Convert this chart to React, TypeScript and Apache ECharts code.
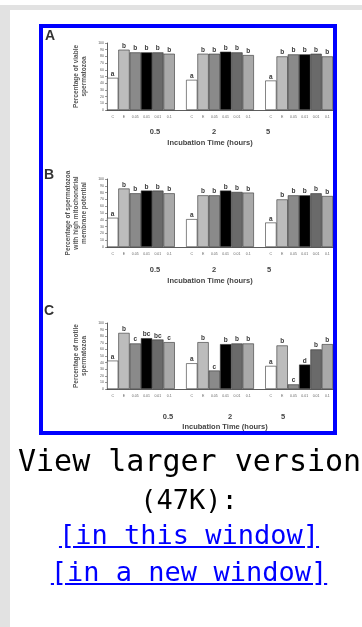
import React, { useEffect, useRef } from "react";
import * as echarts from "echarts";

const times = ["0.5", "2", "5"];
const treatments = ["C", "E", "0.05", "0.01", "0.01", "0.1"];
const treatmentColors = ["#ffffff", "#bcbcbc", "#8a8a8a", "#000000", "#6a6a6a", "#a9a9a9"];

const viable = [
  [48, 90, 86, 86, 86, 84],
  [45, 84, 84, 87, 86, 82],
  [44, 80, 83, 83, 84, 80],
];
const viableLetters = [
  ["a", "b", "b", "b", "b", "b"],
  ["a", "b", "b", "b", "b", "b"],
  ["a", "b", "b", "b", "b", "b"],
];
const mmp = [
  [43, 86, 79, 83, 83, 79],
  [41, 76, 76, 83, 81, 80],
  [36, 70, 76, 76, 79, 75],
];
const mmpLetters = [
  ["a", "b", "b", "b", "b", "b"],
  ["a", "b", "b", "b", "b", "b"],
  ["a", "b", "b", "b", "b", "b"],
];
const motile = [
  [43, 85, 69, 77, 75, 71],
  [39, 71, 28, 68, 69, 69],
  [35, 66, 7, 37, 60, 68],
];
const motileLetters = [
  ["a", "b", "c", "bc", "bc", "c"],
  ["a", "b", "c", "b", "b", "b"],
  ["a", "b", "c", "d", "b", "b"],
];

const yTitles = [
  "Percentage of viable\nspermatozoa",
  "Percentage of spermatozoa\nwith high mitochondrial\nmembrane potential",
  "Percentage of motile\nspermatozoa",
];
const panelLetters = ["A", "B", "C"];
const xTitle = "Incubation Time (hours)";

const FONT = "Liberation Sans";

function buildCats() {
  const cats: string[] = [];
  times.forEach((_, g) => {
    treatments.forEach((t) => cats.push(t));
    if (g < times.length - 1) cats.push("");
  });
  return cats;
}

function buildData(vals: number[][], letters: string[][]) {
  const out: any[] = [];
  vals.forEach((grp, g) => {
    grp.forEach((v, t) => {
      out.push({
        value: v,
        itemStyle: { color: treatmentColors[t], borderColor: "#333", borderWidth: 0.6 },
        label: {
          show: true,
          position: "top",
          distance: 1,
          formatter: letters[g][t],
          color: "#3a3a3a",
          fontSize: 6.5,
          fontWeight: "bold",
          fontFamily: FONT,
        },
      });
    });
    if (g < vals.length - 1) out.push({ value: "-" });
  });
  return out;
}

const grids = [
  { top: 43, height: 67 },
  { top: 179, height: 68 },
  { top: 323, height: 66 },
];
const nameGaps = [16, 12, 16];
const groupLabelPos = [
  { y: 131, xs: [155, 214, 268], tx: 210, ty: 142 },
  { y: 269, xs: [155, 214, 269], tx: 210, ty: 280 },
  { y: 416, xs: [168, 230, 283], tx: 225, ty: 426 },
];
const letterPos = [
  { x: 45, y: 28 },
  { x: 44, y: 167 },
  { x: 44, y: 303 },
];

export default function App() {
  const ref = useRef<HTMLDivElement>(null);
  useEffect(() => {
    if (!ref.current) return;
    const chart = echarts.init(ref.current, null, { renderer: "svg" });
    const cats = buildCats();
    const datasets = [
      buildData(viable, viableLetters),
      buildData(mmp, mmpLetters),
      buildData(motile, motileLetters),
    ];
    const graphics: any[] = [
      { type: "rect", shape: { x: 0, y: 5, width: 362, height: 5 }, style: { fill: "#e2e2e2" }, silent: true },
      { type: "rect", shape: { x: 0, y: 5, width: 10, height: 622 }, style: { fill: "#e2e2e2" }, silent: true },
      {
        type: "rect",
        shape: { x: 41, y: 26, width: 294, height: 407 },
        style: { fill: "#ffffff", stroke: "#0000ff", lineWidth: 4 },
        silent: true,
        z: -1,
      },
    ];
    panelLetters.forEach((l, i) => {
      graphics.push({
        type: "text",
        x: letterPos[i].x,
        y: letterPos[i].y,
        style: { text: l, font: `bold 14px ${FONT}`, fill: "#333" },
      });
      const gp = groupLabelPos[i];
      times.forEach((t, g) => {
        graphics.push({
          type: "text",
          x: gp.xs[g],
          y: gp.y,
          style: { text: t, font: `bold 7.5px ${FONT}`, fill: "#444", align: "center", verticalAlign: "middle" },
        });
      });
      graphics.push({
        type: "text",
        x: gp.tx,
        y: gp.ty,
        style: { text: xTitle, font: `bold 7.5px ${FONT}`, fill: "#444", align: "center", verticalAlign: "middle" },
      });
    });

    const option: any = {
      animation: false,
      backgroundColor: "#ffffff",
      grid: grids.map((g) => ({ left: 107, width: 226, top: g.top, height: g.height, containLabel: false })),
      xAxis: grids.map((_, i) => ({
        type: "category",
        gridIndex: i,
        data: cats,
        axisLine: { show: true, lineStyle: { color: "#333", width: 0.8 } },
        axisTick: { show: false },
        axisLabel: { interval: 0, fontSize: 3.5, color: "#666", margin: 5, fontFamily: FONT },
      })),
      yAxis: grids.map((_, i) => ({
        type: "value",
        gridIndex: i,
        min: 0,
        max: 100,
        interval: 10,
        splitLine: { show: false },
        axisLine: { show: true, lineStyle: { color: "#333", width: 0.8 } },
        axisTick: { show: true, length: 2, lineStyle: { color: "#333", width: 0.5 } },
        axisLabel: { fontSize: 3.5, color: "#555", margin: 3, fontFamily: FONT },
        name: yTitles[i],
        nameLocation: "middle",
        nameRotate: 90,
        nameGap: nameGaps[i],
        nameTextStyle: { fontSize: 6.5, color: "#555", fontFamily: FONT, fontWeight: "bold", lineHeight: 8 },
      })),
      series: datasets.map((d, i) => ({
        type: "bar",
        xAxisIndex: i,
        yAxisIndex: i,
        data: d,
        barWidth: "100%",
      })),
      graphic: graphics,
    };
    chart.setOption(option);
    return () => chart.dispose();
  }, []);

  const base: React.CSSProperties = {
    position: "absolute",
    left: 18,
    width: 342,
    textAlign: "center",
    fontFamily: "'DejaVu Sans Mono', monospace",
    color: "#000",
    whiteSpace: "nowrap",
  };
  const linkStyle: React.CSSProperties = { color: "#0000ff", textDecoration: "underline" };

  return (
    <div style={{ position: "absolute", left: 0, top: 0, width: 362, height: 627, background: "#fff", overflow: "hidden" }}>
      <div
        ref={ref}
        style={{ position: "absolute", left: 0, top: 0, width: 362, height: 627, opacity: 0.999, willChange: "transform" }}
      />
      <div style={{ ...base, top: 443, fontSize: 30, lineHeight: "36px" }}>View larger version</div>
      <div style={{ ...base, top: 482, fontSize: 27, lineHeight: "36px" }}>(47K):</div>
      <div style={{ ...base, top: 517, fontSize: 27, lineHeight: "36px" }}>
        <span style={linkStyle}>[in this window]</span>
      </div>
      <div style={{ ...base, top: 554, fontSize: 27, lineHeight: "36px" }}>
        <span style={linkStyle}>[in a new window]</span>
      </div>
    </div>
  );
}
